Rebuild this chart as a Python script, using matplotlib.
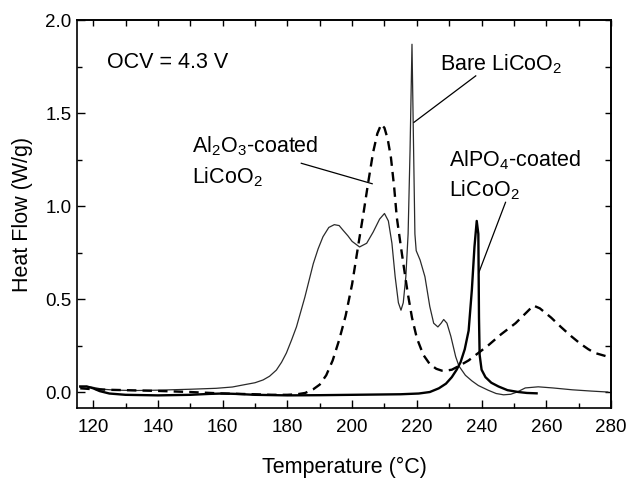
import numpy as np;
import matplotlib;
matplotlib.use("Agg");
import matplotlib.pyplot as plt;
from matplotlib.ticker import MultipleLocator;

## Fonts: Helvetica-like look
plt.rcParams['font.family'] = ['Liberation Sans', 'DejaVu Sans'];
plt.rcParams['mathtext.fontset'] = 'custom';
plt.rcParams['mathtext.rm'] = 'Liberation Sans';
plt.rcParams['mathtext.default'] = 'regular';

## DSC curves (temperature in C, heat flow in W/g)
# Bare LiCoO2 (thin solid):
bareT = [116, 118, 120, 123, 127, 133, 140, 150, 158, 163, 166.3, 170, 172.5, 174.5, 176.6, 178.2, 179.7,
	181.3, 182.8, 184.1, 185.4, 186.7, 188, 189.5, 191, 192.8, 194.5, 196, 197.2, 198.7, 200, 202.3,
	204.5, 206.5, 208.5, 210.0, 211.2, 212.3, 213.3, 214.3, 215.1, 215.8, 216.6, 217.3, 217.9, 218.5,
	219.0, 219.4, 219.8, 221, 222.5, 224, 225.2, 226.5, 227.5, 228.3, 229.3, 230.5, 232, 233, 235,
	237, 239, 242, 244.5, 246.8, 249, 251, 253.5, 257.5, 262, 268, 274, 279];
bareQ = [0.025, 0.03, 0.025, 0.015, 0.01, 0.008, 0.01, 0.015, 0.02, 0.027, 0.038, 0.05, 0.065, 0.085, 0.118, 0.16, 0.21,
	0.28, 0.35, 0.43, 0.51, 0.60, 0.69, 0.77, 0.835, 0.885, 0.90, 0.895, 0.87, 0.84, 0.81, 0.78,
	0.80, 0.86, 0.93, 0.96, 0.92, 0.80, 0.62, 0.48, 0.44, 0.48, 0.62, 0.85, 1.30, 1.87,
	1.30, 0.85, 0.76, 0.71, 0.62, 0.46, 0.37, 0.35, 0.37, 0.39, 0.37, 0.30, 0.19, 0.14, 0.09,
	0.06, 0.035, 0.01, -0.008, -0.015, -0.012, 0.0, 0.022, 0.028, 0.022, 0.012, 0.005, 0.0];

# Al2O3-coated LiCoO2 (dashed):
aloT = [116, 120, 125, 130, 140, 150, 160, 165, 170, 175, 180, 183, 185.5, 188, 190, 192, 194, 196,
	198, 200, 202, 203.5, 205, 206.5, 207.8, 209, 210, 211, 212, 213, 213.8,
	215, 216, 217.2, 218.5, 220, 222, 224, 226, 227.7, 229, 230.8, 233, 236, 239, 242, 246,
	250.5, 254, 256, 258, 261.5, 264.5, 267.7, 270.5, 273, 275, 277, 280];
aloQ = [0.02, 0.015, 0.012, 0.01, 0.006, 0.0, -0.008, -0.01, -0.012, -0.015, -0.015, -0.012, -0.005, 0.015, 0.04, 0.09, 0.17, 0.28,
	0.41, 0.58, 0.80, 0.96, 1.13, 1.29, 1.39, 1.44, 1.42, 1.36, 1.26, 1.10, 0.94,
	0.79, 0.67, 0.53, 0.40, 0.29, 0.20, 0.15, 0.125, 0.115, 0.115, 0.12, 0.14, 0.17, 0.21, 0.25, 0.31,
	0.37, 0.43, 0.465, 0.45, 0.40, 0.35, 0.30, 0.26, 0.23, 0.21, 0.20, 0.185];

# AlPO4-coated LiCoO2 (thick solid):
alpT = [116, 118, 120, 122, 125, 130, 140, 150, 156, 160, 164, 170, 180, 190, 200, 210, 215, 220.6,
	224, 226.8, 229, 230.8, 232.3, 233.5, 234.8, 236, 237, 237.8, 238.5, 239.0, 239.2, 239.4,
	240, 241.2, 243, 245.2, 248, 251.4, 254, 257];
alpQ = [0.03, 0.03, 0.02, 0.005, -0.008, -0.015, -0.018, -0.015, -0.01, -0.008, -0.01, -0.015, -0.018, -0.017, -0.015, -0.013, -0.012, -0.008,
	0.0, 0.02, 0.045, 0.08, 0.12, 0.16, 0.23, 0.33, 0.55, 0.78, 0.92, 0.85, 0.40, 0.20,
	0.12, 0.08, 0.05, 0.03, 0.01, 0.0, -0.005, -0.007];


### Plot:
fig = plt.figure(figsize=(6.28, 4.78), dpi=100);
ax = fig.add_axes([0.1226, 0.1464, 0.8504, 0.8116]);

ax.plot(bareT, bareQ, color='#2a2a2a', lw=0.9);
ax.plot(aloT, aloQ, color='black', lw=1.7, linestyle=(0, (4, 2.6)));
ax.plot(alpT, alpQ, color='black', lw=1.7);

ax.set_xlim(115, 280);
ax.set_ylim(-0.086, 2.0);

## Ticks: inward, labelled on bottom/left, plain ticks on top/right
ax.xaxis.set_major_locator(MultipleLocator(20));
ax.xaxis.set_minor_locator(MultipleLocator(10));
ax.yaxis.set_major_locator(MultipleLocator(0.5));
ax.yaxis.set_minor_locator(MultipleLocator(0.25));
ax.tick_params(which='both', direction='in', top=False, right=False, width=1.0, labelsize=13.5);
ax.tick_params(which='major', length=6);
ax.tick_params(which='minor', length=3.5);
ax.tick_params(axis='x', pad=8);
ax.tick_params(axis='y', pad=4);
ax.yaxis.set_major_formatter(matplotlib.ticker.FormatStrFormatter('%.1f'));

topAx = ax.secondary_xaxis('top');
topAx.xaxis.set_major_locator(MultipleLocator(10));
topAx.tick_params(direction='in', length=4.5, width=1.0, labeltop=False);
rightAx = ax.secondary_yaxis('right');
rightAx.yaxis.set_major_locator(MultipleLocator(0.25));
rightAx.tick_params(direction='in', length=4.5, width=1.0, labelright=False);

for sp in list(ax.spines.values()) + [topAx.spines['top'], rightAx.spines['right']]:
	sp.set_linewidth(1.2);

ax.set_xlabel("Temperature (°C)", fontsize=15.5, labelpad=15);
ax.set_ylabel("Heat Flow (W/g)", fontsize=15.5, labelpad=9);

## Labels and leader lines:
fs = 15.5;
ax.text(124.2, 1.74, "OCV = 4.3 V", fontsize=fs, va='baseline');
ax.text(150.4, 1.29, r"Al$_2$O$_3$-coated", fontsize=fs, va='baseline');
ax.text(150.4, 1.12, r"LiCoO$_2$", fontsize=fs, va='baseline');
ax.plot([184.3, 206.2], [1.23, 1.12], color='black', lw=0.9);
ax.text(227.3, 1.73, r"Bare LiCoO$_2$", fontsize=fs, va='baseline');
ax.plot([238.2, 219.1], [1.70, 1.45], color='black', lw=0.9);
ax.text(229.8, 1.215, r"AlPO$_4$-coated", fontsize=fs, va='baseline');
ax.text(229.8, 1.05, r"LiCoO$_2$", fontsize=fs, va='baseline');
ax.plot([247.4, 239.1], [1.02, 0.64], color='black', lw=0.9);

plt.savefig("out.png", dpi=100);
